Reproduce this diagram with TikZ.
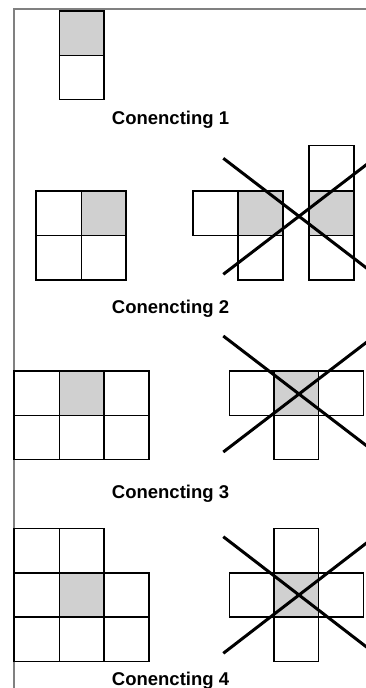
\documentclass[tikz,border=0pt]{standalone}
\usepackage{fontspec}
\setmainfont{Liberation Sans}
\definecolor{cellgray}{RGB}{208,208,208}
\definecolor{framegray}{RGB}{128,128,128}
\tikzset{
  cell/.style={draw=black, line width=1.6pt},
  gfill/.style={fill=cellgray},
  cross/.style={draw=black, line width=3pt},
  frame/.style={draw=framegray, line width=1.2pt},
  caption/.style={font=\fontsize{18.5}{20}\selectfont\bfseries, anchor=base, inner sep=0pt}
}
\begin{document}
\begin{tikzpicture}[x=1pt,y=-1pt]
\useasboundingbox (0,0) rectangle (366,688);
\clip (0,0) rectangle (366,688);
% frame
\draw[frame] (14,688) -- (14,9) -- (366,9);
% ---------- gray fills
\path[gfill] (59.5,11) rectangle (104,55.3);
\path[gfill] (81.5,190.7) rectangle (126,235.3);
\path[gfill] (238,190.7) rectangle (282.7,235.3);
\path[gfill] (309,190.7) rectangle (354,235.3);
\path[gfill] (59.5,371) rectangle (104,415.3);
\path[gfill] (274,371) rectangle (318.3,415.3);
\path[gfill] (59.5,572.7) rectangle (104,617);
\path[gfill] (274,572.7) rectangle (318.3,617);
% ---------- Section 1
\draw[cell] (59.5,11) rectangle (104,55.3);
\draw[cell] (59.5,55.3) rectangle (104,99.5);
\node[caption] (c1) at (170.5,124) {Conencting 1};
% ---------- Section 2
\draw[cell] (36,190.7) rectangle (81.5,235.3);
\draw[cell] (81.5,190.7) rectangle (126,235.3);
\draw[cell] (36,235.3) rectangle (81.5,280);
\draw[cell] (81.5,235.3) rectangle (126,280);
% middle shape
\draw[cell] (192.7,190.7) rectangle (238,235.3);
\draw[cell] (238,190.7) rectangle (282.7,235.3);
\draw[cell] (238,235.3) rectangle (282.7,280);
% right column
\draw[cell] (309,145.3) rectangle (354,190.7);
\draw[cell] (309,190.7) rectangle (354,235.3);
\draw[cell] (309,235.3) rectangle (354,280);
\coordinate (x2a) at (223.3,158.3);
\coordinate (x2b) at (374.7,274.3);
\coordinate (x2c) at (223.3,274.3);
\coordinate (x2d) at (374.7,158.3);
\draw[cross] (x2a) -- (x2b);
\draw[cross] (x2c) -- (x2d);
\node[caption] (c2) at (170.5,313) {Conencting 2};
% ---------- Section 3
\draw[cell] (14,371) rectangle (59.5,415.3);
\draw[cell] (59.5,371) rectangle (104,415.3);
\draw[cell] (104,371) rectangle (148.7,415.3);
\draw[cell] (14,415.3) rectangle (59.5,459.5);
\draw[cell] (59.5,415.3) rectangle (104,459.5);
\draw[cell] (104,415.3) rectangle (148.7,459.5);
% plus shape
\draw[cell] (229.3,371) rectangle (274,415.3);
\draw[cell] (274,371) rectangle (318.3,415.3);
\draw[cell] (318.3,371) rectangle (363.3,415.3);
\draw[cell] (274,415.3) rectangle (318.3,459.5);
\coordinate (x3a) at (223.3,336);
\coordinate (x3b) at (374.7,452);
\coordinate (x3c) at (223.3,452);
\coordinate (x3d) at (374.7,336);
\draw[cross] (x3a) -- (x3b);
\draw[cross] (x3c) -- (x3d);
\node[caption] (c3) at (170.5,498.5) {Conencting 3};
% ---------- Section 4
\draw[cell] (14,528.3) rectangle (59.5,572.7);
\draw[cell] (59.5,528.3) rectangle (104,572.7);
\draw[cell] (14,572.7) rectangle (59.5,617);
\draw[cell] (59.5,572.7) rectangle (104,617);
\draw[cell] (104,572.7) rectangle (148.7,617);
\draw[cell] (14,617) rectangle (59.5,661.5);
\draw[cell] (59.5,617) rectangle (104,661.5);
\draw[cell] (104,617) rectangle (148.7,661.5);
% plus shape
\draw[cell] (274,528.3) rectangle (318.3,572.7);
\draw[cell] (229.3,572.7) rectangle (274,617);
\draw[cell] (274,572.7) rectangle (318.3,617);
\draw[cell] (318.3,572.7) rectangle (363.3,617);
\draw[cell] (274,617) rectangle (318.3,661.5);
\coordinate (x4a) at (223.3,536.7);
\coordinate (x4b) at (374.7,653.3);
\coordinate (x4c) at (223.3,653.3);
\coordinate (x4d) at (374.7,536.7);
\draw[cross] (x4a) -- (x4b);
\draw[cross] (x4c) -- (x4d);
\node[caption] (c4) at (170.5,685.5) {Conencting 4};
\end{tikzpicture}
\end{document}
